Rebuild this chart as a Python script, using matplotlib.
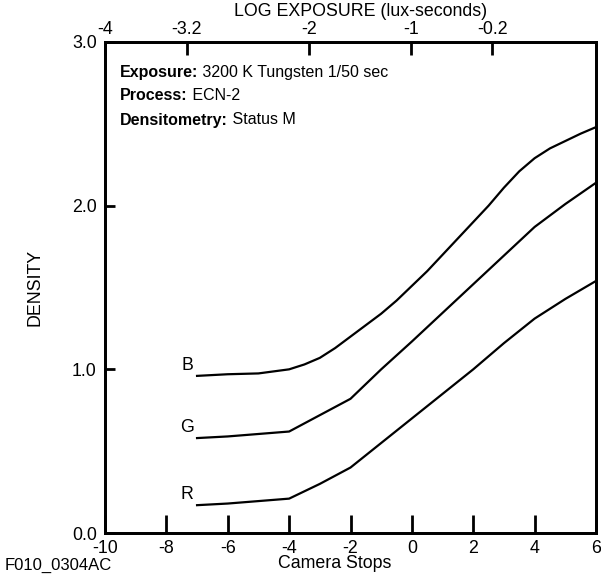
import numpy as np
import matplotlib
matplotlib.use("Agg")
import matplotlib.pyplot as plt

plt.rcParams['font.family'] = ['Liberation Sans', 'DejaVu Sans']

# camera stops
stops = [-7, -6, -5, -4, -3, -2, -1, 0, 1, 2, 3, 4, 5, 6]
dens_r = [0.17, 0.18, 0.195, 0.21, 0.30, 0.40, 0.55, 0.70, 0.85, 1.00, 1.16, 1.31, 1.43, 1.54]
dens_g = [0.58, 0.59, 0.605, 0.62, 0.72, 0.82, 1.00, 1.17, 1.345, 1.52, 1.695, 1.87, 2.01, 2.14]
# blue is a smooth curve, so it is read at half stops
stops_b = [-7, -6, -5, -4, -3.5, -3, -2.5, -2, -1.5, -1, -0.5, 0, 0.5, 1, 1.5, 2,
           2.5, 3, 3.5, 4, 4.5, 5, 5.5, 6]
dens_b = [0.96, 0.97, 0.975, 1.00, 1.03, 1.07, 1.13, 1.20, 1.27, 1.34, 1.42, 1.51,
          1.60, 1.70, 1.80, 1.90, 2.00, 2.11, 2.21, 2.29, 2.35, 2.395, 2.44, 2.48]

stop_ticks = [-10, -8, -6, -4, -2, 0, 2, 4, 6]
dens_ticks = [0.0, 1.0, 2.0, 3.0]
loge_ticks = [-4, -3.2, -2, -1, -0.2]
loge_labels = ['-4', '-3.2', '-2', '-1', '-0.2']

loge_at_min = -4.0          # log exposure at stop -10
log_per_stop = np.log10(2)

fs = 12.8
fig = plt.figure(figsize=(6.01, 5.77), dpi=100)
ax = fig.add_axes([105/601, 1-533/577, 491/601, 491/577])

ax.plot(stops_b, dens_b, '-k', lw=1.6, solid_joinstyle='round')
ax.plot(stops, dens_g, '-k', lw=1.6, solid_joinstyle='round')
ax.plot(stops, dens_r, '-k', lw=1.6, solid_joinstyle='round')

for lab, d in zip(['B', 'G', 'R'], [dens_b, dens_g, dens_r]):
    ax.annotate(lab, (stops[0], d[0]), xytext=(-2.5, 1.5), textcoords='offset points',
                ha='right', va='bottom', fontsize=fs)

ax.set_xlim(-10, 6)
ax.set_ylim(0, 3)
ax.set_xticks(stop_ticks)
ax.set_xticklabels([str(t) for t in stop_ticks])
ax.set_yticks(dens_ticks)
ax.set_yticklabels(['%.1f' % t for t in dens_ticks])
ax.tick_params(axis='x', direction='in', length=13, width=2, labelsize=fs, pad=5)
ax.tick_params(axis='y', direction='in', length=7.5, width=2, labelsize=fs, pad=6)
for s in ax.spines.values():
    s.set_linewidth(2)

top = ax.twiny()
top.set_xlim(loge_at_min, loge_at_min + 16*log_per_stop)
top.set_xticks(loge_ticks)
top.set_xticklabels(loge_labels)
top.tick_params(axis='x', direction='in', length=9.5, width=2, labelsize=fs, pad=3)
for s in top.spines.values():
    s.set_linewidth(2)

fig.text(361/601, 1-11/577, 'LOG EXPOSURE (lux-seconds)', fontsize=fs, ha='center', va='center')
fig.text(335/601, 1-564/577, 'Camera Stops', fontsize=fs, ha='center', va='center')
fig.text(35/601, 1-287/577, 'DENSITY', fontsize=fs, ha='center', va='center', rotation=90)
fig.text(5/601, 1-565/577, 'F010_0304AC', fontsize=12, va='center')

info = [('Exposure:', ' 3200 K Tungsten 1/50 sec'),
        ('Process:', ' ECN-2'),
        ('Densitometry:', ' Status M')]
y0 = 72
for i, (k, v) in enumerate(info):
    yy = 1 - (y0 + 24*i)/577
    t = fig.text(120/601, yy, k, fontsize=11.5, fontweight='bold', va='center')
    fig.canvas.draw()
    bb = t.get_window_extent()
    fig.text(bb.x1/601, yy, v, fontsize=11.5, va='center')

fig.savefig('out.png', dpi=100)
